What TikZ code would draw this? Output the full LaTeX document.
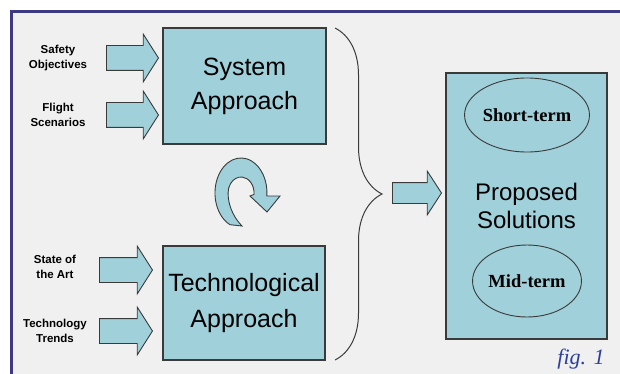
\documentclass[tikz,border=0pt]{standalone}
\usepackage{fontspec}
\setmainfont{Liberation Sans}
\newfontfamily\serifrm{Liberation Serif}
\usetikzlibrary{shapes.geometric,shapes.arrows,decorations.pathreplacing}
\definecolor{boxfill}{HTML}{A0D0DA}
\definecolor{framecol}{HTML}{3C3A85}
\definecolor{figcol}{HTML}{2B3F9C}
\definecolor{bggray}{HTML}{F0F0F0}
\definecolor{edgecol}{HTML}{3A3A3A}
\begin{document}
\begin{tikzpicture}[x=1pt, y=1pt]
\tikzstyle{every node}+=[inner sep=0pt]
\tikzstyle{box}=[draw=edgecol, line width=1.2pt, fill=boxfill, align=center, font=\fontsize{25}{34}\selectfont]
\tikzstyle{fatarrow}=[single arrow, draw=edgecol, line width=0.9pt, fill=boxfill, inner xsep=0pt, inner ysep=12pt, single arrow head extend=11.5pt, single arrow head indent=0pt, single arrow tip angle=115, minimum height=52, minimum width=47, anchor=tip]
\tikzstyle{smalllabel}=[align=center, font=\fontsize{11.5}{15}\selectfont\bfseries]
\tikzstyle{term}=[ellipse, draw=edgecol, line width=0.9pt, font=\fontsize{18.5}{22}\serifrm\bfseries]
\useasboundingbox (0,0) rectangle (620,-374);
\fill [bggray] (11,-12) rectangle (620,-374);
\draw [framecol, line width=3pt] (620,-12) -- (11,-12) -- (11,-374);
\node [box, minimum width=163, minimum height=116] (sys) at (244.5,-86) {System\\Approach};
\node [box, minimum width=162, minimum height=114, font=\fontsize{25}{36}\selectfont] (tech) at (244,-303) {Technological\\Approach};
\node [box, minimum width=161, minimum height=266, font=\fontsize{24}{28}\selectfont] (prop) at (526.5,-206) {Proposed\\Solutions};
\node [term, minimum width=107, minimum height=74] (short) at (527,-115) {Short-term};
\node [term, minimum width=105, minimum height=72] (mid) at (527,-281) {Mid-term};
\node [smalllabel] (safety) at (58,-58) {Safety\\Objectives};
\node [smalllabel] (flight) at (58,-115) {Flight\\Scenarios};
\node [smalllabel] (state) at (55,-267) {State of\\the Art};
\node [smalllabel] (trends) at (55,-331) {Technology\\Trends};
\node [fatarrow] (safarr) at (159,-58) {};
\node [fatarrow] (flarr) at (159,-115) {};
\node [fatarrow, minimum height=53] (starr) at (153,-270) {};
\node [fatarrow, minimum height=53] (trarr) at (153,-331) {};
\node [fatarrow, inner ysep=10pt, minimum height=49, minimum width=43, single arrow head extend=11.5pt, single arrow tip angle=114] (solarr) at (442,-193) {};
\coordinate (bracetop) at (335,-28);
\coordinate (bracebot) at (335,-360);
\draw [edgecol, line width=1pt, decorate, decoration={brace, amplitude=47pt}] (bracetop) -- (bracebot);
\draw [edgecol, line width=0.9pt, fill=boxfill] (230,-224.7) arc [start angle=245, end angle=-5, x radius=26, y radius=35] -- (280,-196) -- (267,-212) -- (250,-196) -- (254,-194.4) arc [start angle=-5, end angle=180, x radius=13, y radius=16] .. controls (228,-208) and (236,-220) .. (242,-226) -- cycle;
\node [font=\fontsize{22}{22}\serifrm\itshape, text=figcol] (fig) at (581,-359) {fig. 1};
\end{tikzpicture}
\end{document}
